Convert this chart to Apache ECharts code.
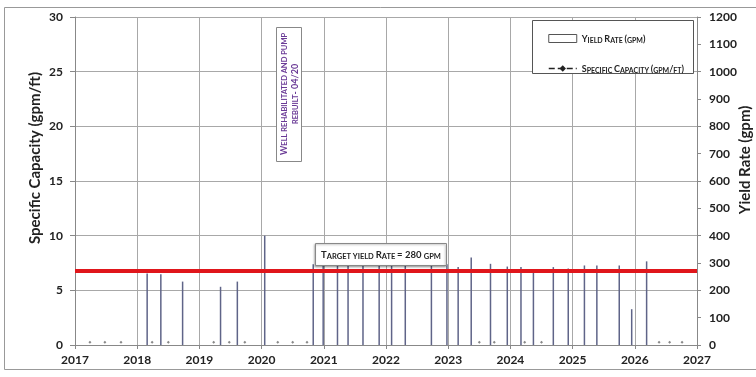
<!DOCTYPE html>
<html><head><meta charset="utf-8">
<script src="https://cdn.jsdelivr.net/npm/echarts@6/dist/echarts.min.js"></script>
<style>html,body{margin:0;padding:0;background:#fff}#c{width:756px;height:377px}</style>
</head><body><div id="c"></div>
<script>
// ---- data ----
const xTicks = [2017, 2018, 2019, 2020, 2021, 2022, 2023, 2024, 2025, 2026, 2027];
const leftTicks = [0, 5, 10, 15, 20, 25, 30];
const rightTicks = [0, 100, 200, 300, 400, 500, 600, 700, 800, 900, 1000, 1100, 1200];
const yieldDates = [2018.16, 2018.38, 2018.73, 2019.34, 2019.61, 2020.05, 2020.83, 2020.99, 2021.22, 2021.39, 2021.63, 2021.89, 2022.09, 2022.31, 2022.73, 2022.98, 2023.16, 2023.37, 2023.68, 2023.95, 2024.17, 2024.37, 2024.69, 2024.93, 2025.19, 2025.39, 2025.75, 2025.95, 2026.19];
const yieldGpm   = [262, 259, 232, 213, 232, 400, 295, 295, 295, 295, 295, 295, 295, 295, 295, 295, 285, 320, 297, 287, 285, 265, 285, 280, 291, 291, 291, 131, 306];
const scDates  = [2017.24, 2017.48, 2017.74, 2018.24, 2018.50, 2019.23, 2019.48, 2019.73, 2020.26, 2020.50, 2020.73, 2023.50, 2023.74, 2024.23, 2024.50, 2026.39, 2026.56, 2026.76];
const scValues = [0.25, 0.25, 0.25, 0.25, 0.25, 0.25, 0.25, 0.25, 0.25, 0.25, 0.25, 0.25, 0.25, 0.25, 0.25, 0.25, 0.25, 0.25];
const targetYield = 272;
const targetText = 'Target yield Rate = 280 gpm';
const noteLines = ['Well rehabilitated and pump', 'rebuilt- 04/20'];
const seriesNames = ['Yield Rate (gpm)', 'Specific Capacity (gpm/ft)'];
const axisTitles = ['Specific Capacity (gpm/ft)', 'Yield Rate (gpm)'];

// ---- helpers ----
const FF = 'Lato, "Liberation Sans", sans-serif';
function sc(s){
  let out = '', cur = null, buf = '';
  for (const ch of s){
    if (ch === ' ') { buf += ' '; continue; }
    const t = (ch !== ch.toUpperCase()) ? 'b' : 'a';
    if (t !== cur){ if (buf) out += '{' + cur + '|' + buf + '}'; buf = ''; cur = t; }
    buf += ch.toUpperCase();
  }
  if (buf) out += '{' + cur + '|' + buf + '}';
  return out;
}
function rich(big, small, color){
  return {
    a: {fontSize: big, fontWeight: 'bold', fontFamily: FF, color: color, fill: color, verticalAlign: 'bottom', lineHeight: big + 2},
    b: {fontSize: small, fontWeight: 'bold', fontFamily: FF, color: color, fill: color, verticalAlign: 'bottom', lineHeight: big + 2}
  };
}

const chart = echarts.init(document.getElementById('c'), null, {renderer: 'canvas'});
const lbl = {fontFamily: FF, fontWeight: 'bold', fontSize: 12, color: '#222'};
const option = {
  animation: false,
  backgroundColor: '#fff',
  grid: {left: 75, right: 59, top: 17, bottom: 32, containLabel: false},
  xAxis: {
    type: 'value', min: xTicks[0], max: xTicks[xTicks.length - 1], interval: 1,
    axisLine: {show: true, onZero: false, lineStyle: {color: '#888'}},
    axisTick: {show: true, length: 4, lineStyle: {color: '#888'}},
    axisLabel: Object.assign({margin: 9, formatter: v => String(v)}, lbl),
    splitLine: {show: true, lineStyle: {color: '#a8a8a8'}}
  },
  yAxis: [
    {type: 'value', min: leftTicks[0], max: leftTicks[leftTicks.length - 1], interval: 5, position: 'left',
     axisLine: {show: true, lineStyle: {color: '#888'}},
     axisTick: {show: true, length: 5, lineStyle: {color: '#888'}},
     axisLabel: Object.assign({margin: 12, formatter: v => String(v)}, lbl),
     splitLine: {show: true, lineStyle: {color: '#a8a8a8'}}},
    {type: 'value', min: rightTicks[0], max: rightTicks[rightTicks.length - 1], interval: 100, position: 'right',
     axisLine: {show: true, lineStyle: {color: '#888'}},
     axisTick: {show: true, length: 4, lineStyle: {color: '#888'}},
     axisLabel: Object.assign({margin: 12, formatter: v => String(v)}, lbl),
     splitLine: {show: false}}
  ],
  legend: {
    orient: 'vertical', left: 543, top: 29, itemGap: 21, itemWidth: 28, itemHeight: 8,
    formatter: n => sc(n),
    textStyle: {rich: rich(9, 7, '#222')},
    data: [
      {name: seriesNames[0], icon: 'rect', itemStyle: {color: '#fff', borderColor: '#555', borderWidth: 1}},
      {name: seriesNames[1], itemStyle: {color: '#222'}, lineStyle: {type: 'dashed', width: 1.5, color: '#222', opacity: 1}}
    ]
  },
  series: [
    {name: seriesNames[0], type: 'bar', yAxisIndex: 1, barWidth: 1.5,
     data: yieldDates.map((d, i) => [d, yieldGpm[i]]),
     itemStyle: {color: '#5f6488'},
     markLine: {silent: true, symbol: 'none', label: {show: false},
       lineStyle: {color: '#e0161b', width: 4, type: 'solid'},
       data: [{yAxis: targetYield}]}},
    {name: seriesNames[1], type: 'line', yAxisIndex: 0,
     data: scDates.map((d, i) => [d, scValues[i]]),
     symbol: 'diamond', symbolSize: 3, showSymbol: true,
     itemStyle: {color: '#888'}, lineStyle: {opacity: 0}}
  ],
  graphic: [
    {type: 'rect', z: -1, silent: true, shape: {x: 4.5, y: 7.5, width: 800, height: 362}, style: {fill: 'none', stroke: '#999', lineWidth: 1}},
    {type: 'rect', z: 3, silent: true, shape: {x: 532.5, y: 20.5, width: 161, height: 53}, style: {fill: '#fff', stroke: '#555', lineWidth: 1}},
    {type: 'rect', z: 5, silent: true, shape: {x: 276.5, y: 27.5, width: 25, height: 134}, style: {fill: '#fff', stroke: '#888', lineWidth: 1}},
    {type: 'text', z: 6, silent: true, x: 289, y: 94, rotation: Math.PI / 2,
     style: {text: sc(noteLines[0]) + '\n' + sc(noteLines[1]), align: 'center', verticalAlign: 'middle', fill: '#6a3a96', rich: rich(9, 7.5, '#6a3a96')}},
    {type: 'rect', z: 5, silent: true, shape: {x: 315.5, y: 243.5, width: 131, height: 22}, style: {fill: '#fff', stroke: '#888', lineWidth: 1, shadowBlur: 2, shadowOffsetX: -1, shadowOffsetY: 1, shadowColor: 'rgba(0,0,0,0.3)'}},
    {type: 'text', z: 6, silent: true, x: 381, y: 254.5,
     style: {text: sc(targetText), align: 'center', verticalAlign: 'middle', fill: '#222', rich: rich(9.5, 7.5, '#222')}},
    {type: 'text', z: 6, silent: true, x: 35, y: 158, rotation: Math.PI / 2,
     style: {text: axisTitles[0], align: 'center', verticalAlign: 'middle', font: 'bold 15px ' + FF, fill: '#222'}},
    {type: 'text', z: 6, silent: true, x: 745, y: 160, rotation: Math.PI / 2,
     style: {text: axisTitles[1], align: 'center', verticalAlign: 'middle', font: 'bold 15px ' + FF, fill: '#222'}}
  ]
};
chart.setOption(option);
</script>
</body></html>
